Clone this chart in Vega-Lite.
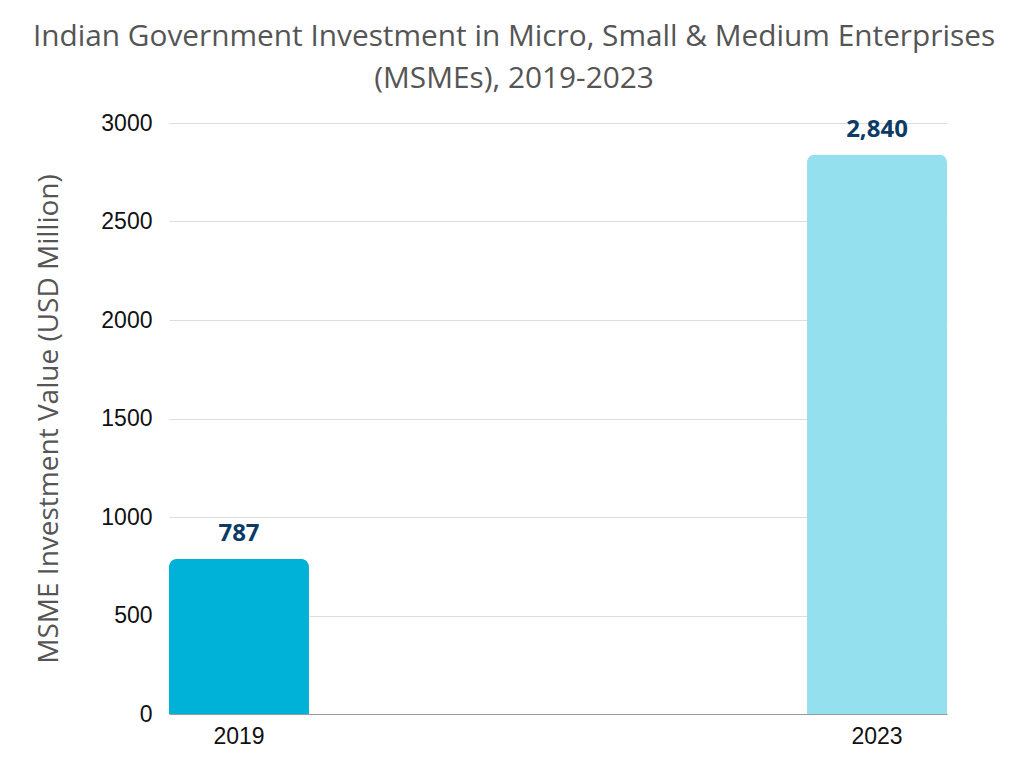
{
  "$schema": "https://vega.github.io/schema/vega-lite/v6.json",
  "autosize": "none",
  "width": 778,
  "height": 591,
  "padding": {"left": 169, "top": 123, "right": 77, "bottom": 54},
  "background": "white",
  "title": {
    "text": ["Indian Government Investment in Micro, Small & Medium Enterprises", "(MSMEs), 2019-2023"],
    "font": "Open Sans",
    "fontSize": 29.8,
    "fontWeight": 500,
    "color": "#555555",
    "anchor": "middle",
    "dx": -44,
    "offset": 18,
    "lineHeight": 42
  },
  "data": {
    "values": [
      {"year": "2019", "value": 787},
      {"year": "2023", "value": 2840}
    ]
  },
  "encoding": {
    "x": {
      "field": "year",
      "type": "nominal",
      "sort": null,
      "scale": {"paddingInner": 0.7806, "paddingOuter": 0},
      "axis": {
        "title": null,
        "labelAngle": 0,
        "labelFont": "Liberation Sans",
        "labelFontSize": 23,
        "labelColor": "#111111",
        "labelPadding": 11,
        "ticks": false,
        "domainColor": "#999999",
        "domainWidth": 1
      }
    },
    "y": {
      "field": "value",
      "type": "quantitative",
      "scale": {"domain": [0, 3000], "nice": false},
      "axis": {
        "title": "MSME Investment Value (USD Million)",
        "titleFont": "Open Sans",
        "titleFontSize": 28,
        "titleFontWeight": 500,
        "titleColor": "#555555",
        "titlePadding": 37,
        "values": [0, 500, 1000, 1500, 2000, 2500, 3000],
        "format": "d",
        "labelFont": "Liberation Sans",
        "labelFontSize": 23,
        "labelColor": "#111111",
        "labelPadding": 17,
        "ticks": false,
        "domain": false,
        "gridColor": "#dddddd",
        "gridWidth": 1
      }
    }
  },
  "layer": [
    {
      "mark": {"type": "bar", "cornerRadiusTopLeft": 8, "cornerRadiusTopRight": 8},
      "encoding": {
        "color": {
          "field": "year",
          "type": "nominal",
          "scale": {"domain": ["2019", "2023"], "range": ["#00B2D8", "#94E0EE"]},
          "legend": null
        }
      }
    },
    {
      "mark": {"type": "text", "baseline": "bottom", "dy": -13, "font": "Open Sans", "fontSize": 24, "fontWeight": "bold", "color": "#0D3B66"},
      "encoding": {
        "text": {"field": "value", "type": "quantitative", "format": ","}
      }
    }
  ],
  "config": {"view": {"stroke": null}}
}
